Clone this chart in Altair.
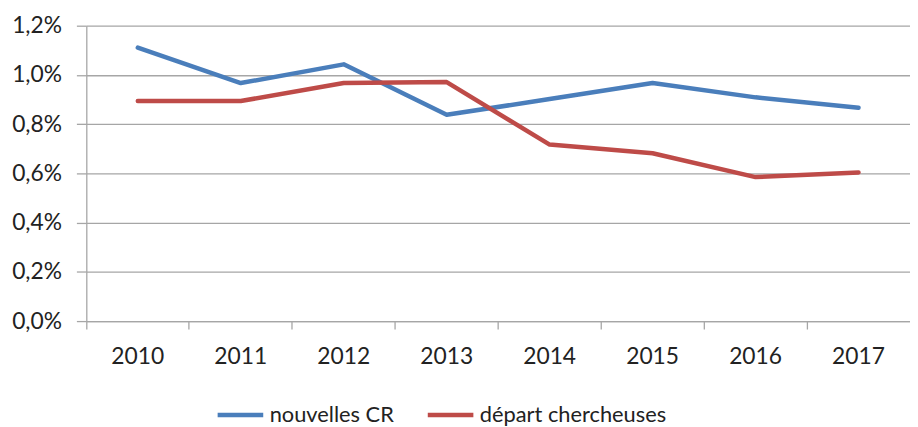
import altair as alt
import pandas as pd

years = ["2010", "2011", "2012", "2013", "2014", "2015", "2016", "2017"]
nouvelles_cr = [1.111, 0.967, 1.043, 0.838, 0.902, 0.967, 0.909, 0.867]
depart_chercheuses = [0.894, 0.894, 0.967, 0.971, 0.717, 0.682, 0.585, 0.604]
series_names = ["nouvelles CR", "départ chercheuses"]
series_colors = ["#4a7ebb", "#be4b48"]

rows = []
for name, vals in zip(series_names, [nouvelles_cr, depart_chercheuses]):
    for y, v in zip(years, vals):
        rows.append({"annee": y, "valeur": v / 100.0, "serie": name})
df = pd.DataFrame(rows)

FONT = "Lato"
GRID = "#a6a6a6"

chart = alt.Chart(df).mark_line(strokeWidth=4.5, strokeCap="round", strokeJoin="round").encode(
    x=alt.X(
        "annee:O",
        bandPosition=0.5,
        scale=alt.Scale(type="band", paddingInner=0, paddingOuter=0, domain=years),
        axis=alt.Axis(
            title=None,
            bandPosition=0,
            labelAngle=0,
            tickSize=8,
            labelPadding=17,
            grid=False,
            domainColor=GRID,
            tickColor=GRID,
            domainWidth=1.3,
            tickWidth=1.3,
        ),
    ),
    y=alt.Y(
        "valeur:Q",
        scale=alt.Scale(domain=[0, 0.012], nice=False),
        axis=alt.Axis(
            title=None,
            values=[0, 0.002, 0.004, 0.006, 0.008, 0.010, 0.012],
            labelExpr="replace(format(datum.value, '.1%'), '.', ',')",
            tickSize=10,
            labelPadding=15,
            gridColor=GRID,
            gridWidth=1.3,
            domainColor=GRID,
            tickColor=GRID,
            domainWidth=1.3,
            tickWidth=1.3,
            minExtent=79,
            maxExtent=79,
        ),
    ),
    color=alt.Color(
        "serie:N",
        scale=alt.Scale(domain=series_names, range=series_colors),
        legend=alt.Legend(
            title=None,
            orient="none",
            direction="horizontal",
            legendX=130,
            legendY=367,
            symbolType="stroke",
            symbolSize=2116,
            symbolStrokeWidth=4.5,
            columnPadding=24,
            labelOffset=4,
        ),
    ),
).properties(
    width=831,
    height=298,
    padding={"left": 0, "top": 5, "right": 0, "bottom": 0},
).configure_view(stroke=None).configure_axis(
    labelFont=FONT, labelFontSize=23, labelColor="#222222"
).configure_legend(
    labelFont=FONT, labelFontSize=22, labelColor="#222222", labelLimit=400
)

chart.save("out.html", embed_options={"renderer": "svg", "actions": False})
